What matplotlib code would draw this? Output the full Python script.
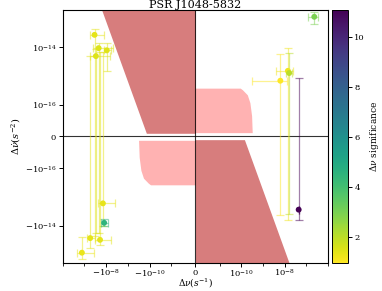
"""
Glitch candidates for PSR J1048-5832: dnu vs dnudot on symlog axes
"""

import matplotlib
matplotlib.use('Agg')
import matplotlib.pyplot as plt
from matplotlib.colors import Normalize
from matplotlib.ticker import FixedLocator

plt.rcParams['font.family'] = ['DejaVu Serif']
plt.rcParams['mathtext.fontset'] = 'dejavuserif'

# glitch candidates
dnu = [-3.4e-8, -2.2e-8, -9.3e-9, -2.95e-8,
       -1.4e-8, -1.23e-8, -5.4e-8, -1.9e-8, -1.3e-7,
       2.3e-7, 1.4e-8, 1.6e-8, 6.3e-9, 4.4e-8]
dnu_err = [2.2e-8, 1.7e-8, 3.5e-9, 2.3e-8,
           1.0e-8, 4e-9, 2.2e-8, 1.3e-8, 9.5e-8,
           1.1e-7, 1e-8, 5e-9, 6e-9, 0.0]
dnudot = [2.7e-14, 9.3e-15, 7.8e-15, 4.9e-15,
          -1.66e-15, -7.9e-15, -2.7e-14, -3.1e-14, -8.7e-14,
          1.15e-13, 1.5e-15, 1.26e-15, 6.8e-16, -2.75e-15]
dnudot_err_lo = [5.0e-14, 2.7e-14, 6.3e-15, 2.3e-14,
                 8.7e-15, 2e-15, 3.2e-14, 1.5e-14, 6.2e-14,
                 4.8e-14, 7.8e-15, 5.2e-15, 5e-15, 3.6e-15]
dnudot_err_hi = [1.7e-14, 5e-15, 6.3e-15, 4e-15,
                 8.7e-15, 2e-15, 3.2e-14, 3.8e-14, 6.2e-14,
                 4.8e-14, 7.8e-15, 5.2e-15, 5e-15, 3.6e-15]
significance = [1.4, 1.5, 1.45, 1.5,
                1.35, 4.5, 1.4, 1.4, 1.3,
                3.0, 1.2, 2.0, 0.97, 11.1]

# excluded regions (boundaries)
excl_y = [1e-17, 2e-13]
excl_x = [1.4e-10, 1.6e-8]
soft_y = [1.2e-17, 6.5e-17, 1.17e-16, 2.2e-16, 3.3e-16, 3.75e-16]
soft_x = [3.2e-10, 3.0e-10, 2.5e-10, 1.9e-10, 1.13e-10, 0.9e-10]

fig = plt.figure(figsize=(3.82, 2.91), dpi=100)
ax = fig.add_axes([0.164, 0.096, 0.695, 0.870])
cax = fig.add_axes([0.869, 0.096, 0.042, 0.870])

ax.set_xscale('symlog', linthresh=1e-11)
ax.set_yscale('symlog', linthresh=1e-16)

# shaded regions
ax.fill_betweenx(excl_y, [-v for v in excl_x], 0, color='indianred', alpha=0.8, lw=0)
ax.fill_betweenx([-v for v in excl_y], excl_x, 0, color='indianred', alpha=0.8, lw=0)
ax.fill_betweenx(soft_y, 0, soft_x, color='red', alpha=0.3, lw=0)
ax.fill_betweenx([-v for v in soft_y], [-v for v in soft_x], 0, color='red', alpha=0.3, lw=0)

ax.axhline(0, color='k', lw=0.8, alpha=0.8)
ax.axvline(0, color='k', lw=0.8, alpha=0.8)

cmap = plt.get_cmap('viridis_r')
norm = Normalize(vmin=min(significance), vmax=max(significance))
for i in range(len(dnu)):
    ax.errorbar(dnu[i], dnudot[i], xerr=dnu_err[i],
                yerr=[[dnudot_err_lo[i]], [dnudot_err_hi[i]]],
                fmt='none', ecolor=cmap(norm(significance[i])), alpha=0.5,
                elinewidth=0.9, capsize=3, capthick=0.9)
sc = ax.scatter(dnu, dnudot, c=significance, cmap=cmap, norm=norm, s=18,
                edgecolors='none', zorder=3)

ax.set_xlim(-1e-6, 1e-6)
ax.set_ylim(-2e-13, 2e-13)
ax.xaxis.set_major_locator(FixedLocator([-1e-8, -1e-10, 0, 1e-10, 1e-8]))
ax.xaxis.set_minor_locator(FixedLocator([-1e-6, -1e-7, -1e-9, -1e-11,
                                         1e-11, 1e-9, 1e-7, 1e-6]))
ax.yaxis.set_major_locator(FixedLocator([-1e-14, -1e-16, 0, 1e-16, 1e-14]))
ax.yaxis.set_minor_locator(FixedLocator([]))
ax.tick_params(labelsize=6, length=3, width=0.7, pad=1.5)
ax.tick_params(axis='x', pad=0.5)
ax.tick_params(which='minor', length=2, width=0.6)

ax.set_xlabel(r'$\Delta\nu(s^{-1})$', fontsize=6.5, labelpad=-2)
ax.set_ylabel(r'$\Delta\dot{\nu}(s^{-2})$', fontsize=7, labelpad=1)
ax.set_title('PSR J1048-5832', fontsize=8, pad=1.5)

cb = fig.colorbar(sc, cax=cax)
cb.set_label(r'$\Delta\nu$ significance', fontsize=6.5, labelpad=2)
cb.ax.tick_params(labelsize=6, length=3, width=0.7, pad=1.5)
cb.outline.set_linewidth(0.7)

fig.savefig('out.png', dpi=100)
